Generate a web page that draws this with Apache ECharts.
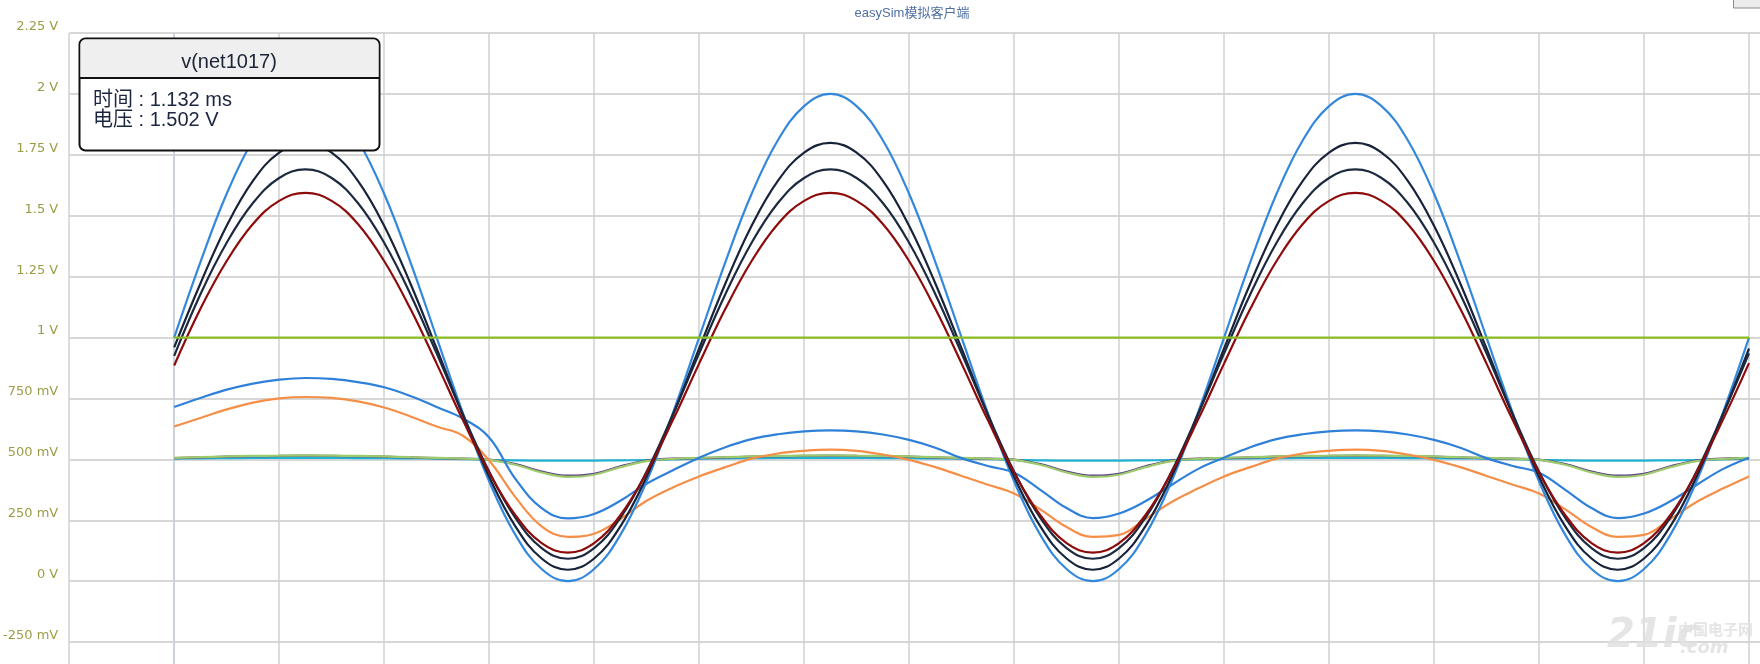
<!DOCTYPE html>
<html><head><meta charset="utf-8">
<script src="https://cdn.jsdelivr.net/npm/echarts@6/dist/echarts.min.js"></script>
<style>html,body{margin:0;padding:0;background:#fff;overflow:hidden;width:1760px;height:664px;}#chart{width:1870px;height:720px;}</style>
</head><body><div id="chart"></div>
<script>
// time in ms
const times = [0,0.05,0.1,0.15,0.2,0.25,0.3,0.35,0.4,0.45,0.5,0.55,0.6,0.65,0.7,0.75,0.8,0.85,0.9,0.95,
  1,1.05,1.1,1.15,1.2,1.25,1.3,1.35,1.4,1.45,1.5,1.55,1.6,1.65,1.7,1.75,1.8,1.85,1.9,1.95,
  2,2.05,2.1,2.15,2.2,2.25,2.3,2.35,2.4,2.45,2.5,2.55,2.6,2.65,2.7,2.75,2.8,2.85,2.9,2.95,3];

const vDc1V = [1,1,1,1,1,1,1,1,1,1,1,1,1,1,1,1,1,1,1,1,
  1,1,1,1,1,1,1,1,1,1,1,1,1,1,1,1,1,1,1,1,
  1,1,1,1,1,1,1,1,1,1,1,1,1,1,1,1,1,1,1,1,1];

const vSource = [1.00,1.31,1.59,1.81,1.95,2.00,1.95,1.81,1.59,1.31,1.00,0.69,0.41,0.19,0.05,0.00,0.05,0.19,0.41,0.69,
  1.00,1.31,1.59,1.81,1.95,2.00,1.95,1.81,1.59,1.31,1.00,0.69,0.41,0.19,0.05,0.00,0.05,0.19,0.41,0.69,
  1.00,1.31,1.59,1.81,1.95,2.00,1.95,1.81,1.59,1.31,1.00,0.69,0.41,0.19,0.05,0.00,0.05,0.19,0.41,0.69,1.00];

const vDark1 = [0.960,1.222,1.459,1.643,1.759,1.799,1.759,1.643,1.459,1.222,0.955,0.681,0.429,0.225,0.093,0.047,0.093,0.225,0.429,0.681,
  0.955,1.222,1.459,1.643,1.759,1.799,1.759,1.643,1.459,1.222,0.955,0.681,0.429,0.225,0.093,0.047,0.093,0.225,0.429,0.681,
  0.955,1.222,1.459,1.643,1.759,1.799,1.759,1.643,1.459,1.222,0.955,0.681,0.429,0.225,0.093,0.047,0.093,0.225,0.429,0.681,0.955];

const vNet1017 = [0.925,1.178,1.389,1.552,1.655,1.690,1.655,1.552,1.389,1.178,0.935,0.684,0.450,0.260,0.136,0.092,0.136,0.260,0.450,0.684,
  0.935,1.178,1.389,1.552,1.655,1.690,1.655,1.552,1.389,1.178,0.935,0.684,0.450,0.260,0.136,0.092,0.136,0.260,0.450,0.684,
  0.935,1.178,1.389,1.552,1.655,1.690,1.655,1.552,1.389,1.178,0.935,0.684,0.450,0.260,0.136,0.092,0.136,0.260,0.450,0.684,0.935];

const vRed = [0.885,1.118,1.314,1.466,1.561,1.594,1.561,1.466,1.314,1.118,0.893,0.661,0.446,0.271,0.156,0.117,0.156,0.271,0.446,0.661,
  0.893,1.118,1.314,1.466,1.561,1.594,1.561,1.466,1.314,1.118,0.893,0.661,0.446,0.271,0.156,0.117,0.156,0.271,0.446,0.661,
  0.893,1.118,1.314,1.466,1.561,1.594,1.561,1.466,1.314,1.118,0.893,0.661,0.446,0.271,0.156,0.117,0.156,0.271,0.446,0.661,0.895];

const vBlue2 = [0.715,0.752,0.786,0.811,0.827,0.834,0.830,0.817,0.796,0.760,0.715,0.668,0.590,0.420,0.300,0.258,0.276,0.330,0.400,0.455,
  0.507,0.550,0.583,0.603,0.615,0.619,0.615,0.602,0.580,0.548,0.505,0.473,0.445,0.375,0.300,0.259,0.278,0.328,0.395,0.460,
  0.507,0.550,0.583,0.603,0.615,0.619,0.615,0.602,0.580,0.548,0.505,0.473,0.445,0.375,0.300,0.259,0.278,0.328,0.395,0.460,0.507];

const vOrange = [0.635,0.670,0.705,0.733,0.750,0.756,0.752,0.738,0.713,0.676,0.635,0.597,0.495,0.345,0.225,0.182,0.195,0.255,0.330,0.385,
  0.430,0.468,0.503,0.524,0.535,0.540,0.535,0.520,0.498,0.468,0.432,0.396,0.360,0.295,0.222,0.182,0.190,0.255,0.325,0.380,
  0.430,0.468,0.503,0.524,0.535,0.540,0.535,0.520,0.498,0.468,0.432,0.396,0.360,0.295,0.222,0.182,0.190,0.255,0.325,0.380,0.430];

const vLightGreen = [0.506,0.509,0.512,0.514,0.515,0.516,0.515,0.514,0.512,0.509,0.506,0.503,0.498,0.478,0.446,0.428,0.437,0.468,0.493,0.502,
  0.506,0.509,0.512,0.514,0.515,0.516,0.515,0.514,0.512,0.509,0.506,0.503,0.498,0.478,0.446,0.428,0.437,0.468,0.493,0.502,
  0.506,0.509,0.512,0.514,0.515,0.516,0.515,0.514,0.512,0.509,0.506,0.503,0.498,0.478,0.446,0.428,0.437,0.468,0.493,0.502,0.506];

const vPurple = [0.505,0.508,0.511,0.513,0.514,0.515,0.514,0.513,0.511,0.508,0.505,0.503,0.499,0.481,0.450,0.433,0.441,0.471,0.495,0.503,
  0.505,0.508,0.511,0.513,0.514,0.515,0.514,0.513,0.511,0.508,0.505,0.503,0.499,0.481,0.450,0.433,0.441,0.471,0.495,0.503,
  0.505,0.508,0.511,0.513,0.514,0.515,0.514,0.513,0.511,0.508,0.505,0.503,0.499,0.481,0.450,0.433,0.441,0.471,0.495,0.503,0.505];

const vCyan = [0.503,0.504,0.505,0.506,0.506,0.506,0.506,0.505,0.505,0.504,0.503,0.501,0.498,0.496,0.495,0.495,0.495,0.496,0.497,0.500,
  0.503,0.504,0.505,0.506,0.506,0.506,0.506,0.505,0.505,0.504,0.503,0.501,0.498,0.496,0.495,0.495,0.495,0.496,0.497,0.500,
  0.503,0.504,0.505,0.506,0.506,0.506,0.506,0.505,0.505,0.504,0.503,0.501,0.498,0.496,0.495,0.495,0.495,0.496,0.497,0.500,0.503];

const yTicks = [-0.5, 2.25, 0.25]; // min, max, step (V)
const xTicks = [-0.2, 3.2, 0.2];   // min, max, step (ms)

const seriesDefs = [
  {name: 'cyan', data: vCyan, color: '#22b2d4'},
  {name: 'purple', data: vPurple, color: '#5b3b8c'},
  {name: 'lightgreen', data: vLightGreen, color: '#9dca6a'},
  {name: 'orange', data: vOrange, color: '#f58f48'},
  {name: 'blue2', data: vBlue2, color: '#2f80d8'},
  {name: 'source', data: vSource, color: '#3388dc'},
  {name: 'dark1', data: vDark1, color: '#18233a'},
  {name: 'v(net1017)', data: vNet1017, color: '#1c2a40'},
  {name: 'red', data: vRed, color: '#8e0b0b'},
  {name: 'dc1v', data: vDc1V, color: '#8cbe24'}
];

const chart = echarts.init(document.getElementById('chart'), null, {renderer: 'canvas'});
const labelFont = 'DejaVu Sans';
function fmtV(v) {
  const mv = Math.round(v * 1000);
  if (mv === 0) return '0 V';
  if (Math.abs(mv) >= 1000) return (mv / 1000) + ' V';
  return mv + ' mV';
}
const option = {
  animation: false,
  backgroundColor: '#ffffff',
  grid: {left: 68, top: 33, width: 1786, height: 670, containLabel: false},
  xAxis: {
    type: 'value', min: xTicks[0], max: xTicks[1], interval: xTicks[2],
    axisLine: {show: false}, axisTick: {show: false}, axisLabel: {show: false},
    splitLine: {show: true, lineStyle: {color: '#d0d0d0', width: 1.5}}
  },
  yAxis: {
    type: 'value', min: yTicks[0], max: yTicks[1], interval: yTicks[2],
    axisLine: {show: true, lineStyle: {color: '#c9d0dc', width: 1.5}},
    axisTick: {show: false},
    axisLabel: {show: true, color: '#9c9c48', fontFamily: labelFont, fontSize: 13,
      margin: 11, verticalAlign: 'bottom', formatter: fmtV},
    splitLine: {show: true, lineStyle: {color: '#cacaca', width: 1.5}}
  },
  series: seriesDefs.map(s => ({
    name: s.name, type: 'line', showSymbol: false, smooth: 0.4,
    data: times.map((t, i) => [t, s.data[i]]),
    lineStyle: {color: s.color, width: 2.2}, itemStyle: {color: s.color},
    emphasis: {disabled: true}
  })),
  graphic: [
    {type: 'text', z: 100, style: {text: 'easySim模拟客户端', x: 912, y: 13, align: 'center', verticalAlign: 'middle',
      font: '13px "Liberation Sans", "Noto Sans CJK SC", sans-serif', fill: '#4f70a4'}},
    {type: 'rect', z: 100, shape: {x: 1733.5, y: -3, width: 40, height: 11}, style: {fill: '#ececec', stroke: '#8a8a8a', lineWidth: 1}},
    {type: 'rect', z: 100, shape: {x: 79.5, y: 38.5, width: 300, height: 112, r: 6}, style: {fill: '#ffffff', stroke: '#111111', lineWidth: 2}},
    {type: 'rect', z: 101, shape: {x: 80.5, y: 39.5, width: 298, height: 38, r: [5, 5, 0, 0]}, style: {fill: '#efefef'}},
    {type: 'line', z: 102, shape: {x1: 80, y1: 78, x2: 379, y2: 78}, style: {stroke: '#111111', lineWidth: 2}},
    {type: 'text', z: 103, style: {text: 'v(net1017)', x: 229, y: 62, align: 'center', verticalAlign: 'middle',
      font: '20px "Liberation Sans", Arial, sans-serif', fill: '#1b2336'}},
    {type: 'text', z: 103, style: {text: '时间 : 1.132 ms', x: 93, y: 100, align: 'left', verticalAlign: 'middle',
      font: '20px "Liberation Sans", "Noto Sans CJK SC", sans-serif', fill: '#1c2540'}},
    {type: 'text', z: 103, style: {text: '电压 : 1.502 V', x: 93, y: 120, align: 'left', verticalAlign: 'middle',
      font: '20px "Liberation Sans", "Noto Sans CJK SC", sans-serif', fill: '#1c2540'}},
    {type: 'text', z: 90, style: {text: '21ic', x: 1607, y: 637, align: 'left', verticalAlign: 'middle',
      font: 'bold italic 40px "DejaVu Sans", sans-serif', fill: 'rgba(225,225,225,0.85)'}},
    {type: 'text', z: 90, style: {text: '中国电子网', x: 1678, y: 629, align: 'left', verticalAlign: 'middle',
      font: 'bold 15px "Noto Sans CJK SC", sans-serif', fill: 'rgba(225,225,225,0.85)'}},
    {type: 'text', z: 90, style: {text: '.com', x: 1680, y: 648, align: 'left', verticalAlign: 'middle',
      font: 'bold italic 18px "DejaVu Sans", sans-serif', fill: 'rgba(225,225,225,0.85)'}}
  ]
};
chart.setOption(option);
</script>
</body></html>
